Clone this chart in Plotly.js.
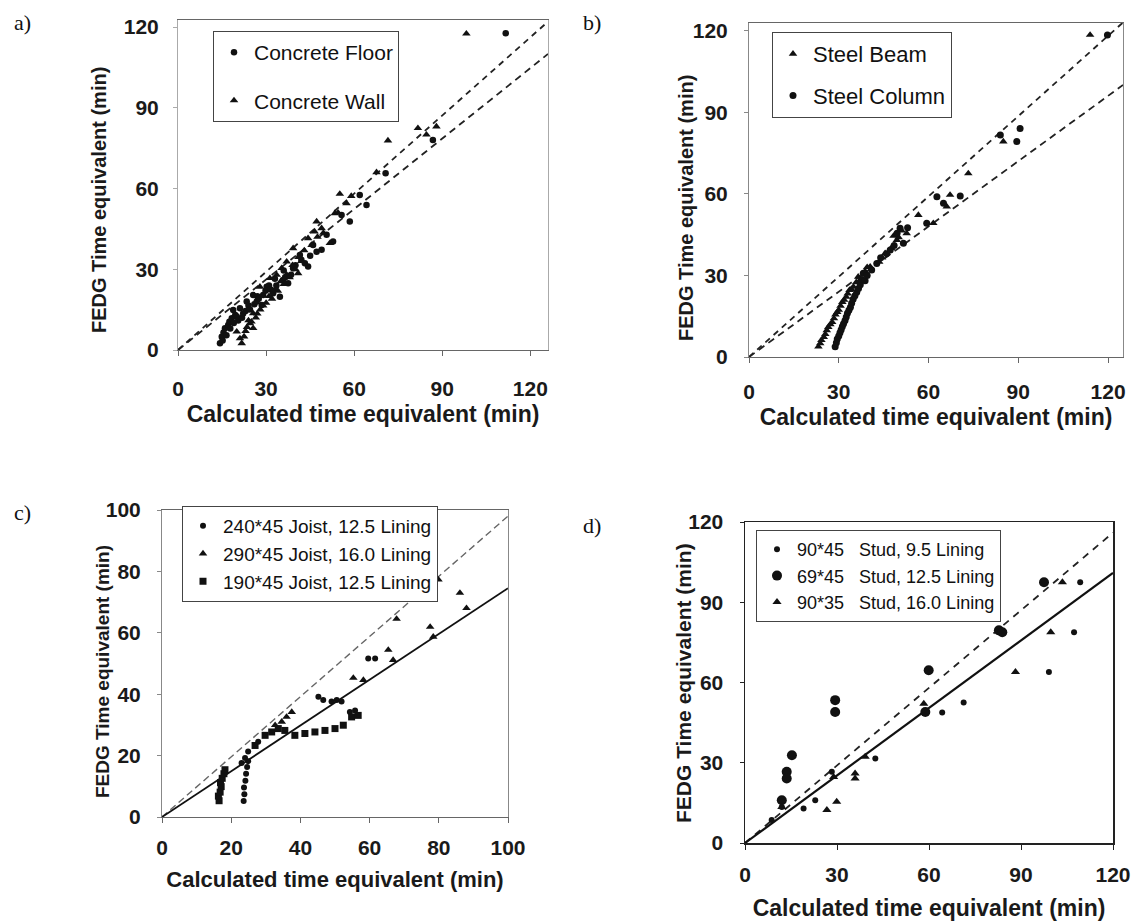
<!DOCTYPE html>
<html>
<head>
<meta charset="utf-8">
<script src="https://cdn.plot.ly/plotly-3.0.1.min.js"></script>
<style>html,body{margin:0;padding:0;background:#fff}#chart{width:1144px;height:922px}</style>
</head>
<body>
<div id="chart"></div>
<script>
// ---------- Panel a) Concrete ----------
const floorX = [14.3,14.9,15.2,15.5,16.0,16.5,17.1,17.5,17.8,18.3,18.8,19.0,19.5,20.0,20.5,21.1,21.8,22.2,23.0,23.4,24.0,24.5,25.6,26.0,26.8,27.0,27.5,28.5,29.0,29.8,30.2,31.0,31.5,32.4,33.0,33.5,34.7,35.8,36.0,36.5,37.5,38.5,39.2,40.0,41.5,42.0,43.2,44.3,45.0,46.0,47.2,48.9,50.6,52.8,55.7,58.5,61.9,64.2,70.7,86.8,111.6];
const floorY = [2.5,4.9,3.5,6.5,8.1,5.5,9.3,10.5,8.0,11.8,14.9,10.0,13.0,12.4,11.0,15.5,12.0,13.6,14.5,18.0,16.5,15.0,20.4,17.0,18.0,20.0,19.0,16.7,20.4,22.0,23.5,24.0,22.5,21.1,26.5,24.0,19.8,26.0,29.5,27.0,24.8,28.0,30.4,31.5,35.3,33.5,32.2,31.0,35.0,39.0,36.5,37.2,42.8,40.3,50.2,47.7,57.6,53.9,65.7,78.0,117.7];
const wallX = [20.0,21.1,21.7,22.5,23.0,23.5,24.0,24.5,25.0,25.6,25.6,26.5,27.0,28.0,27.9,29.0,30.0,31.0,31.3,32.0,33.0,33.6,34.0,35.0,35.3,36.0,37.0,37.0,38.0,39.0,39.2,40.0,40.9,41.0,42.0,43.0,44.3,45.5,46.5,47.2,47.5,48.9,49.5,51.7,53.4,54.5,55.1,57.4,59.0,67.6,71.5,81.7,84.6,88.0,98.2];
const wallY = [6.8,4.3,2.5,5.0,7.0,8.5,11.0,9.9,10.5,8.1,13.6,12.0,13.5,15.0,23.5,16.5,17.5,20.0,26.7,19.0,22.5,27.9,22.0,25.5,30.4,24.5,32.8,28.0,27.0,31.5,37.8,30.0,28.5,34.5,33.0,37.0,41.5,39.0,44.0,47.7,42.0,45.2,43.5,39.7,50.8,51.0,58.0,54.5,57.2,66.0,77.8,82.4,80.0,83.0,117.5];
const aLineX = [0, 126];
const aUpperY = [0, 122];
const aLowerY = [0, 110];

// ---------- Panel b) Steel ----------
const beamX = [23.2,23.8,24.2,25.0,25.5,26.0,26.5,27.2,27.8,28.4,28.9,29.5,30.0,30.6,31.2,31.8,32.5,33.0,33.6,34.2,34.9,35.8,36.5,37.1,38.8,39.5,40.5,43.5,44.5,45.5,47.5,48.3,49.4,50.0,51.0,52.7,56.6,61.6,66.1,67.2,73.3,85.0,114.0];
const beamY = [3.8,5.0,6.2,7.3,8.4,9.8,11.0,12.0,12.8,14.2,15.6,16.5,17.3,18.8,20.2,21.0,22.1,23.3,24.6,25.0,25.8,27.4,29.5,28.3,31.5,33.0,33.2,35.0,36.5,38.1,40.0,44.5,43.0,44.0,46.5,45.5,52.2,49.2,55.3,59.6,67.5,79.2,118.4];
const columnX = [28.8,29.2,29.5,30.0,30.4,30.8,31.2,31.6,32.1,32.5,32.9,33.4,33.9,34.3,34.8,35.4,36.0,36.6,37.2,37.7,38.2,38.8,39.5,41.0,42.7,44.0,46.0,47.2,48.5,49.5,50.5,51.6,53.0,59.4,62.8,65.0,70.6,84.0,89.5,90.6,119.8];
const columnY = [3.8,5.2,6.6,7.7,8.9,10.0,11.2,12.2,13.4,14.7,16.1,17.2,18.3,19.8,21.2,22.5,23.8,25.2,26.6,28.5,30.8,28.0,30.0,32.0,34.4,36.5,38.0,39.3,41.0,45.5,47.3,41.8,47.5,49.2,58.9,56.5,59.2,81.6,79.2,84.0,118.4];
const bLineX = [0, 125];
const bUpperY = [0, 123];
const bLowerY = [0, 100];

// ---------- Panel c) Timber floors ----------
const j240X = [23.6,23.8,23.7,24.1,24.3,24.6,24.9,23.0,24.0,24.9,27.8,45.2,46.6,49.0,50.5,51.9,54.3,55.8,59.6,61.6];
const j240Y = [5.2,7.4,9.6,11.8,14.1,16.3,18.2,17.6,19.2,21.3,24.5,39.2,38.1,37.6,38.1,37.6,34.2,34.7,51.6,51.6];
const j290X = [32.7,34.6,36.0,37.5,55.3,58.2,65.4,66.8,67.8,77.5,78.4,79.9,86.1,88.0];
const j290Y = [29.9,31.0,32.6,34.2,45.3,44.6,54.4,51.1,64.5,61.9,58.7,77.3,73.0,68.0];
const j190X = [16.5,16.3,16.8,17.1,16.9,17.4,17.9,18.2,26.9,29.8,31.7,33.6,35.5,38.4,41.3,44.2,47.1,50.0,52.4,54.8,56.7];
const j190Y = [5.3,6.8,8.1,9.9,11.2,12.6,14.1,15.4,23.3,26.6,27.7,28.8,28.2,26.6,27.2,27.7,28.2,28.8,29.9,32.6,33.1];
const cLineX = [0, 100];
const cDashY = [0, 98];
const cSolidY = [0, 74.5];

// ---------- Panel d) Timber walls ----------
const s9X = [8.7,12.0,19.1,22.9,28.3,42.5,64.3,71.3,99.1,107.3,109.3];
const s9Y = [8.6,13.5,12.9,16.0,26.6,31.6,48.8,52.5,63.9,78.8,97.5];
const s69X = [12.0,13.6,13.6,15.3,29.4,29.4,58.8,59.9,82.8,83.9,97.5];
const s69Y = [16.0,26.6,24.1,32.8,53.4,49.0,49.0,64.6,79.5,78.8,97.5];
const s35X = [12.0,26.7,28.9,29.9,35.9,35.9,39.2,58.3,88.2,99.7,103.5];
const s35Y = [13.5,12.3,24.7,15.4,26.0,24.1,32.2,52.1,63.9,78.8,97.5];
const dLineX = [0, 120];
const dDashY = [0, 116];
const dSolidY = [0, 101];

// ---------- Labels ----------
const xTitle = 'Calculated time equivalent (min)';
const yTitle = 'FEDG Time equivalent (min)';
const ticks30 = [0, 30, 60, 90, 120];
const ticks20 = [0, 20, 40, 60, 80, 100];
const panelLabels = ['a)', 'b)', 'c)', 'd)'];

// ---------- Build ----------
const W = 1144, H = 922;
const fx = p => p / W;
const fy = p => 1 - p / H;
const SANS = 'Liberation Sans, Arial, sans-serif';
const SERIF = 'Liberation Serif, Times New Roman, serif';
const tickFont = {family: SANS, size: 21, weight: 'bold', color: '#1a1a1a'};
const tf = s => ({family: SANS, size: s, weight: 'bold', color: '#1a1a1a'});

function pts(x, y, xa, ya, symbol, size, name, legend, group) {
  return {x, y, xaxis: xa, yaxis: ya, type: 'scatter', mode: 'markers', name,
    legend, legendgroup: group,
    marker: {symbol, size, color: '#111', line: {width: 0}}};
}
function line(x, y, xa, ya, dash, width, color) {
  return {x, y, xaxis: xa, yaxis: ya, type: 'scatter', mode: 'lines', showlegend: false,
    hoverinfo: 'skip', line: {dash, width, color}};
}

const data = [
  line(aLineX, aUpperY, 'x', 'y', '6px,5px', 1.8, '#222'),
  line(aLineX, aLowerY, 'x', 'y', '7px,5px', 1.8, '#222'),
  pts(floorX, floorY, 'x', 'y', 'circle', 6.5, 'Concrete Floor', 'legend', 'a1'),
  pts(wallX, wallY, 'x', 'y', 'triangle-up', 7.5, 'Concrete Wall', 'legend', 'a2'),

  line(bLineX, bUpperY, 'x2', 'y2', '6px,5px', 1.8, '#222'),
  line(bLineX, bLowerY, 'x2', 'y2', '7px,5px', 1.8, '#222'),
  pts(beamX, beamY, 'x2', 'y2', 'triangle-up', 7.5, 'Steel Beam', 'legend2', 'b1'),
  pts(columnX, columnY, 'x2', 'y2', 'circle', 7, 'Steel Column', 'legend2', 'b2'),

  line(cLineX, cDashY, 'x3', 'y3', '7px,4px', 1.4, '#666'),
  line(cLineX, cSolidY, 'x3', 'y3', 'solid', 1.8, '#111'),
  pts(j240X, j240Y, 'x3', 'y3', 'circle', 6, '240*45 Joist, 12.5 Lining', 'legend3', 'c1'),
  pts(j290X, j290Y, 'x3', 'y3', 'triangle-up', 7.5, '290*45 Joist, 16.0 Lining', 'legend3', 'c2'),
  pts(j190X, j190Y, 'x3', 'y3', 'square', 7, '190*45 Joist, 12.5 Lining', 'legend3', 'c3'),

  line(dLineX, dDashY, 'x4', 'y4', '7px,6px', 1.8, '#222'),
  line(dLineX, dSolidY, 'x4', 'y4', 'solid', 2.2, '#111'),
  pts(s9X, s9Y, 'x4', 'y4', 'circle', 6, '90*45\u00a0\u00a0 Stud, 9.5 Lining', 'legend4', 'd1'),
  pts(s69X, s69Y, 'x4', 'y4', 'circle', 10, '69*45\u00a0\u00a0 Stud, 12.5 Lining', 'legend4', 'd2'),
  pts(s35X, s35Y, 'x4', 'y4', 'triangle-up', 8, '90*35\u00a0\u00a0 Stud, 16.0 Lining', 'legend4', 'd3'),
];

function xax(domain, range, tickvals, anchor, standoff, lc, lw, titleSize, titleStandoff) {
  return {domain, range, tickvals, anchor, showgrid: false, zeroline: false,
    showline: true, mirror: true, linecolor: lc, linewidth: lw,
    ticks: 'outside', ticklen: 5, tickcolor: lc, tickfont: tickFont,
    ticklabelstandoff: standoff,
    title: {text: xTitle, font: tf(titleSize), standoff: titleStandoff}};
}
function yax(domain, range, tickvals, anchor, standoff, lc, lw) {
  return {domain, range, tickvals, anchor, showgrid: false, zeroline: false,
    showline: true, mirror: true, linecolor: lc, linewidth: lw,
    ticks: 'outside', ticklen: 4, tickcolor: lc, tickfont: tickFont,
    ticklabelstandoff: standoff};
}
function legendBox(xp, yp, size, gap) {
  return {x: fx(xp), y: fy(yp), xanchor: 'left', yanchor: 'top',
    bgcolor: '#fff', bordercolor: '#444', borderwidth: 1,
    font: {family: SANS, size, color: '#111'},
    traceorder: 'grouped', tracegroupgap: gap, itemwidth: 30};
}
function ann(text, x, y, font, angle) {
  return {text, x: fx(x), y: fy(y), xref: 'paper', yref: 'paper', showarrow: false,
    xanchor: 'center', yanchor: 'middle', textangle: angle, font};
}
const letterFont = {family: SERIF, size: 22, color: '#111'};

const layout = {
  width: W, height: H,
  margin: {l: 0, r: 0, t: 0, b: 0},
  paper_bgcolor: '#fff', plot_bgcolor: '#fff',
  showlegend: true,
  xaxis: xax([fx(178), fx(548)], [0, 126], ticks30, 'y', 15, '#666', 1, 23, 6),
  yaxis: yax([fy(350), fy(20)], [0, 122.6], ticks30, 'x', 10, '#aaa', 1),
  xaxis2: xax([fx(749), fx(1123)], [0, 125], ticks30, 'y2', 11, '#666', 1, 23, 6),
  yaxis2: yax([fy(357), fy(23)], [0, 122.8], ticks30, 'x2', 12, '#888', 1),
  xaxis3: xax([fx(162), fx(508)], [0, 100], ticks20, 'y3', 7, '#666', 1, 22, 13),
  yaxis3: yax([fy(817), fy(510)], [0, 100], ticks20, 'x3', 12, '#888', 1),
  xaxis4: xax([fx(745), fx(1113)], [0, 120], ticks30, 'y4', 7, '#222', 1.5, 23, 15),
  yaxis4: yax([fy(843), fy(522)], [0, 120], ticks30, 'x4', 12, '#222', 1.5),
  legend: legendBox(213, 31, 21, 18),
  legend2: legendBox(772, 32, 22, 10),
  legend3: legendBox(182, 506, 19, 0),
  legend4: legendBox(756, 530, 18, 0),
  annotations: [
    ann(yTitle, 99, 200, tf(20), -90),
    ann(yTitle, 686, 208, tf(20), -90),
    ann(yTitle, 102, 672, tf(19), -90),
    ann(yTitle, 683, 683, tf(21), -90),
    ann(panelLabels[0], 22, 22, letterFont, 0),
    ann(panelLabels[1], 592, 22, letterFont, 0),
    ann(panelLabels[2], 22, 512, letterFont, 0),
    ann(panelLabels[3], 592, 525, letterFont, 0),
  ]
};

Plotly.newPlot('chart', data, layout, {staticPlot: true, displayModeBar: false});
</script>
</body>
</html>
